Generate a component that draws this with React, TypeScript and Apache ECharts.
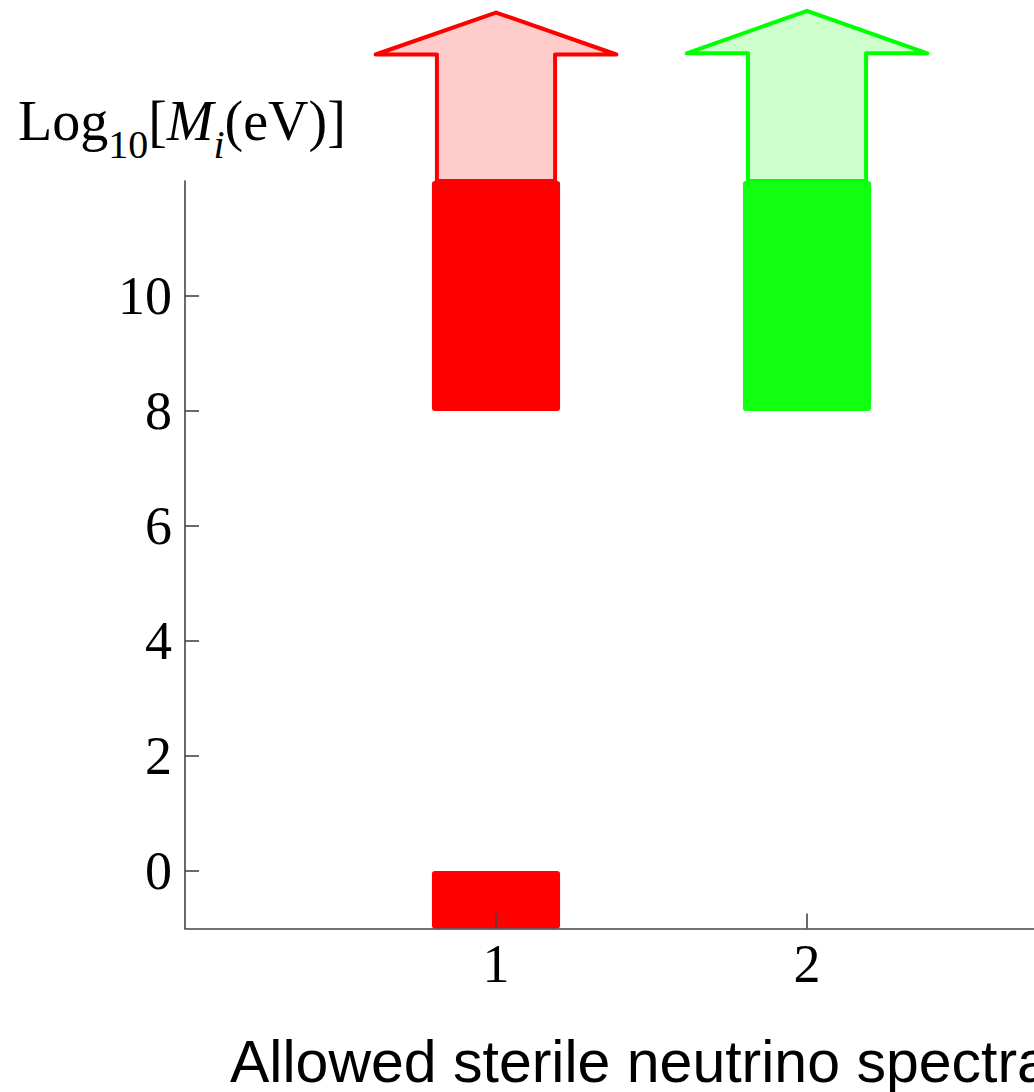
import React, { useEffect, useRef } from "react";
import * as echarts from "echarts";

// Columns (sterile neutrino index) and allowed log10 mass ranges per column
const RED_COLUMN = 1;
const GREEN_COLUMN = 2;
const RED_RANGES: [number, number][] = [
  [-1, 0],
  [8, 12],
];
const GREEN_RANGES: [number, number][] = [[8, 12]];

// Upward arrows: [column, base, wing level, tip level]
const ARROWS: [number, number, number, number][] = [
  [1, 12, 14.2, 14.93],
  [2, 12, 14.22, 14.96],
];

const X_TICKS = [1, 2];
const Y_TICKS = [0, 2, 4, 6, 8, 10];

const X_TITLE = "Allowed sterile neutrino spectra";

const SERIF = '"Liberation Serif", "Times New Roman", serif';
const SANS = '"Liberation Sans", Arial, sans-serif';

const BAR_HALF = 0.206;
const SHAFT_HALF = 0.19;
const WING_HALF = 0.387;

function barSeries(name: string, column: number, ranges: [number, number][], color: string) {
  return {
    name,
    type: "custom",
    clip: false,
    z: 3,
    data: ranges.map(([lo, hi]) => [column, lo, hi]),
    renderItem: (_params: any, api: any) => {
      const x = api.value(0);
      const lo = api.value(1);
      const hi = api.value(2);
      const p1 = api.coord([x - BAR_HALF, hi]);
      const p2 = api.coord([x + BAR_HALF, lo]);
      return {
        type: "rect",
        shape: { x: p1[0], y: p1[1], width: p2[0] - p1[0], height: p2[1] - p1[1], r: 3 },
        style: { fill: color },
      };
    },
  };
}

function arrowSeries(name: string, arrow: [number, number, number, number], stroke: string, fill: string) {
  return {
    name,
    type: "custom",
    clip: false,
    z: 2,
    data: [arrow],
    renderItem: (_params: any, api: any) => {
      const x = api.value(0);
      const base = api.value(1);
      const wing = api.value(2);
      const tip = api.value(3);
      const pts = [
        [x - SHAFT_HALF, base],
        [x - SHAFT_HALF, wing],
        [x - WING_HALF, wing],
        [x, tip],
        [x + WING_HALF, wing],
        [x + SHAFT_HALF, wing],
        [x + SHAFT_HALF, base],
      ].map((p) => api.coord(p));
      return {
        type: "polygon",
        shape: { points: pts },
        style: { fill, stroke, lineWidth: 4, lineJoin: "round" },
      };
    },
  };
}

export default function App() {
  const ref = useRef<HTMLDivElement>(null);

  useEffect(() => {
    if (!ref.current) return;
    const chart = echarts.init(ref.current, undefined, { renderer: "svg" });
    const axisLine = { lineStyle: { color: "#444", width: 1.6 } };
    chart.setOption({
      animation: false,
      backgroundColor: "#fff",
      grid: { left: 185, top: 181, width: 1244, height: 747.5 },
      xAxis: {
        type: "value",
        min: 0,
        max: 4,
        z: 10,
        axisLine: { ...axisLine, onZero: false },
        splitLine: { show: false },
        axisTick: { inside: true, length: 15, customValues: X_TICKS, lineStyle: { color: "#444", width: 1.6 } },
        axisLabel: {
          customValues: X_TICKS,
          margin: 8,
          fontSize: 54,
          fontFamily: SERIF,
          color: "#000",
        },
      },
      yAxis: {
        type: "value",
        min: -1,
        max: 12,
        z: 10,
        axisLine: { ...axisLine, onZero: false },
        splitLine: { show: false },
        axisTick: { inside: true, length: 14, customValues: Y_TICKS, lineStyle: { color: "#444", width: 1.6 } },
        axisLabel: {
          customValues: Y_TICKS,
          margin: 13,
          fontSize: 54,
          fontFamily: SERIF,
          color: "#000",
        },
      },
      graphic: [
        {
          type: "text",
          left: 18,
          top: 93,
          style: {
            text: "{a|Log}{s|10}{a|[}{m|M}{si|i}{a|(eV)]}",
            fill: "#000",
            rich: {
              a: { fontSize: 56, fontFamily: SERIF, lineHeight: 86, verticalAlign: "middle", fill: "#000" },
              m: { fontSize: 56, fontFamily: SERIF, fontStyle: "italic", lineHeight: 86, verticalAlign: "middle", fill: "#000" },
              s: { fontSize: 40, fontFamily: SERIF, lineHeight: 40, verticalAlign: "bottom", fill: "#000" },
              si: { fontSize: 40, fontFamily: SERIF, fontStyle: "italic", lineHeight: 40, verticalAlign: "bottom", fill: "#000" },
            },
          },
        },
        {
          type: "text",
          left: 230,
          top: 1032,
          style: { text: X_TITLE, font: `59px ${SANS}`, fill: "#000" },
        },
      ],
      series: [
        arrowSeries("arrow1", ARROWS[0], "#ff0000", "#ffcccc"),
        arrowSeries("arrow2", ARROWS[1], "#00ff00", "#ccffcc"),
        barSeries("spectrum1", RED_COLUMN, RED_RANGES, "#ff0000"),
        barSeries("spectrum2", GREEN_COLUMN, GREEN_RANGES, "#11ff11"),
      ],
    });
    return () => chart.dispose();
  }, []);

  return (
    <div
      style={{
        position: "fixed",
        left: 0,
        top: 0,
        width: 1034,
        height: 1092,
        overflow: "hidden",
        background: "#fff",
      }}
    >
      <div ref={ref} style={{ width: 1500, height: 1092 }} />
    </div>
  );
}
